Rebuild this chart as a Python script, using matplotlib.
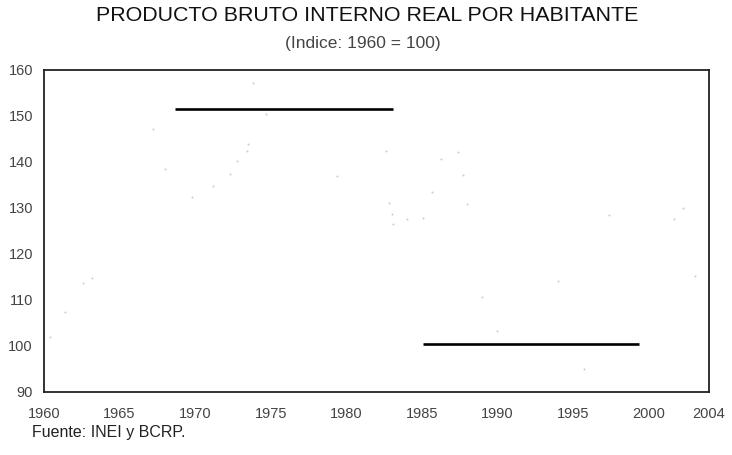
import matplotlib
matplotlib.use("Agg")
import matplotlib.pyplot as plt

# horizontal reference levels (start year, end year, index)
tramo_x = [[1968.7, 1983.1], [1985.1, 1999.4]]
tramo_y = [151.5, 100.5]

# faint remnants of the series visible in the scan
puntos_x = [1960.4, 1961.4, 1962.6, 1963.2, 1967.2, 1968.0, 1969.8, 1971.2,
            1972.3, 1972.8, 1973.4, 1973.5, 1973.8, 1974.7, 1979.4, 1982.6,
            1982.8, 1983.0, 1983.1, 1984.0, 1985.1, 1985.7, 1986.3, 1987.4,
            1987.7, 1988.0, 1989.0, 1990.0, 1994.0, 1995.7, 1997.4, 2001.7,
            2002.3, 2003.1]
puntos_y = [102.0, 107.4, 113.7, 114.8, 147.2, 138.5, 132.4, 134.8,
            137.4, 140.2, 142.4, 143.9, 157.1, 150.4, 137.0, 142.4,
            131.0, 128.7, 126.5, 127.6, 127.8, 133.5, 140.6, 142.2,
            137.2, 130.9, 110.7, 103.3, 114.1, 95.0, 128.5, 127.6,
            130.0, 115.2]

xticks = [1960, 1965, 1970, 1975, 1980, 1985, 1990, 1995, 2000, 2004]
yticks = [90, 100, 110, 120, 130, 140, 150, 160]

plt.rcParams['font.family'] = ['Liberation Sans', 'DejaVu Sans']

fig = plt.figure(figsize=(7.32, 4.55), dpi=100)
ax = fig.add_axes([0.0601, 0.1385, 0.9085, 0.7077])

ax.scatter(puntos_x, puntos_y, s=2, color='#cccccc', linewidths=0)
for xs, y in zip(tramo_x, tramo_y):
    ax.plot(xs, [y, y], color='black', lw=1.9, solid_capstyle='butt')

ax.set_xlim(1960, 2004)
ax.set_ylim(90, 160)
ax.set_xticks(xticks)
ax.set_yticks(yticks)
ax.tick_params(axis='both', length=0, labelsize=10.5, labelcolor='#444444')
ax.tick_params(axis='x', pad=11)
ax.tick_params(axis='y', pad=8)
for s in ax.spines.values():
    s.set_linewidth(1.3)
    s.set_color('#222222')

fig.text(0.502, 0.967, 'PRODUCTO BRUTO INTERNO REAL POR HABITANTE',
         ha='center', va='center', fontsize=15.4, color='#111111')
fig.text(0.495, 0.905, '(Indice: 1960 = 100)', ha='center', va='center',
         fontsize=12.5, color='#444444')
fig.text(0.044, 0.05, 'Fuente: INEI y BCRP.', ha='left', va='center',
         fontsize=11.5, color='#222222')

fig.savefig('out.png', dpi=100)
